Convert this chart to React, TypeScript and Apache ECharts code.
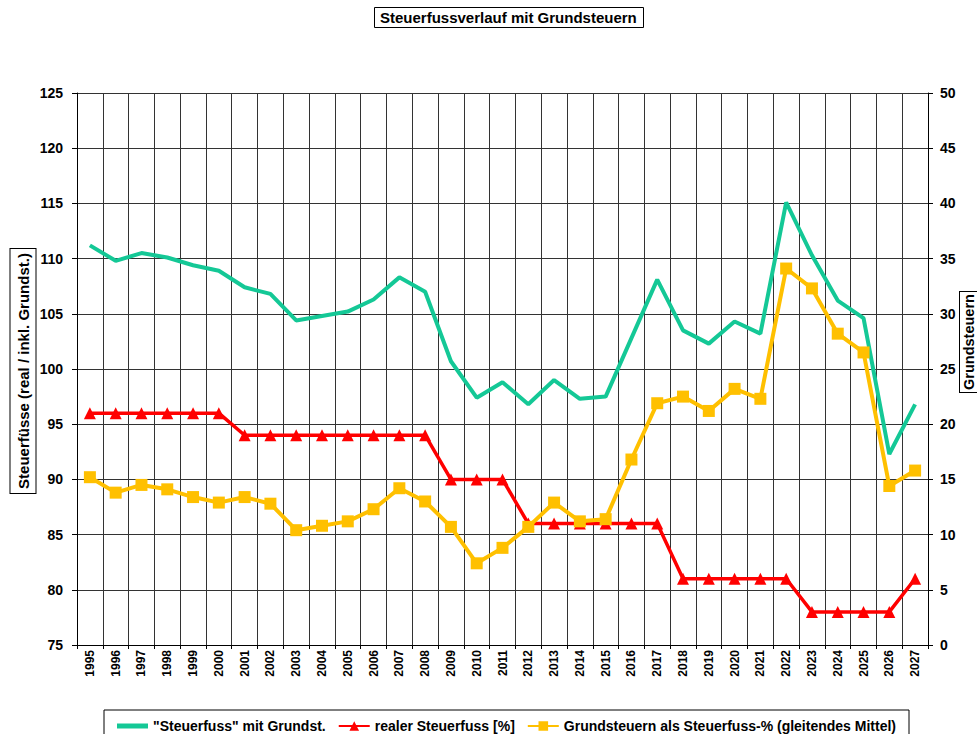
import React, { useEffect, useRef } from "react";
import * as echarts from "echarts";

const years = ["1995","1996","1997","1998","1999","2000","2001","2002","2003","2004","2005","2006","2007","2008","2009","2010","2011","2012","2013","2014","2015","2016","2017","2018","2019","2020","2021","2022","2023","2024","2025","2026","2027"];

const steuerfussMitGrundst = [111.2,109.8,110.5,110.1,109.4,108.9,107.4,106.8,104.4,104.8,105.2,106.3,108.3,107.0,100.7,97.4,98.8,96.8,99.0,97.3,97.5,102.8,108.1,103.5,102.3,104.3,103.2,115.1,110.3,106.2,104.6,92.3,96.8];

const realerSteuerfuss = [96,96,96,96,96,96,94,94,94,94,94,94,94,94,90,90,90,86,86,86,86,86,86,81,81,81,81,81,78,78,78,78,81];

const grundsteuernProzent = [15.2,13.8,14.5,14.1,13.4,12.9,13.4,12.8,10.4,10.8,11.2,12.3,14.2,13.0,10.7,7.4,8.8,10.7,12.9,11.2,11.4,16.8,21.9,22.5,21.2,23.2,22.3,34.1,32.3,28.2,26.5,14.4,15.8];

const leftTicks = { min: 75, max: 125, interval: 5 };
const rightTicks = { min: 0, max: 50, interval: 5 };

const seriesNames = ['"Steuerfuss" mit Grundst.', "realer Steuerfuss [%]", "Grundsteuern als Steuerfuss-% (gleitendes Mittel)"];

const FONT = "'Liberation Sans', Arial, sans-serif";

export default function App() {
  const ref = useRef<HTMLDivElement>(null);
  useEffect(() => {
    if (!ref.current) return;
    const chart = echarts.init(ref.current, undefined, { renderer: "svg" });
    chart.setOption({
      animation: false,
      backgroundColor: "#ffffff",
      textStyle: { fontFamily: FONT },
      title: {
        text: "Steuerfussverlauf mit Grundsteuern",
        left: 374,
        top: 7,
        padding: [2, 7, 2, 6],
        borderColor: "#000",
        borderWidth: 1,
        textStyle: { fontFamily: FONT, fontWeight: "bold", fontSize: 15, color: "#000", lineHeight: 17 },
      },
      grid: { left: 77, right: 49, top: 93, bottom: 89, containLabel: false, outerBoundsMode: "none" },
      legend: {
        left: 112,
        top: 714,
        itemWidth: 31,
        itemHeight: 12,
        itemGap: 12,
        textStyle: { fontFamily: FONT, fontWeight: "bold", fontSize: 14, color: "#000" },
        data: [
          { name: seriesNames[0], icon: "path://M0,0L31,0L31,5L0,5Z" },
          { name: seriesNames[1] },
          { name: seriesNames[2] },
        ],
      },
      graphic: [
        {
          type: "rect",
          shape: { x: 104, y: 710, width: 805, height: 40 },
          style: { fill: "none", stroke: "#000", lineWidth: 1 },
          silent: true,
        },
        {
          type: "text",
          x: 23,
          y: 371,
          rotation: Math.PI / 2,
          style: {
            text: "Steuerfüsse (real / inkl. Grundst.)",
            fontFamily: FONT,
            fontWeight: "bold",
            fontSize: 15,
            fill: "#000",
            align: "center",
            verticalAlign: "middle",
            borderColor: "#000",
            borderWidth: 1,
            padding: [5, 4, 5, 4],
            backgroundColor: "#fff",
          },
        },
        {
          type: "text",
          x: 969,
          y: 342,
          rotation: Math.PI / 2,
          style: {
            text: "Grundsteuern",
            fontFamily: FONT,
            fontWeight: "bold",
            fontSize: 14.5,
            fill: "#000",
            align: "center",
            verticalAlign: "middle",
            borderColor: "#000",
            borderWidth: 1,
            padding: [2, 2, 1, 2],
            backgroundColor: "#fff",
          },
        },
      ],
      xAxis: {
        type: "category",
        data: years,
        boundaryGap: true,
        axisLine: { show: true, lineStyle: { color: "#000", width: 1 } },
        axisTick: { show: true, length: 4, interval: 0, lineStyle: { color: "#000" } },
        axisLabel: { interval: 0, rotate: 90, fontWeight: "bold", fontSize: 12, color: "#000", margin: 5, fontFamily: FONT },
        splitLine: { show: true, interval: 0, lineStyle: { color: "#333", width: 1 } },
      },
      yAxis: [
        {
          type: "value",
          min: leftTicks.min,
          max: leftTicks.max,
          interval: leftTicks.interval,
          axisLine: { show: true, lineStyle: { color: "#000", width: 1 } },
          axisTick: { show: true, length: 5, inside: false, lineStyle: { color: "#000" } },
          axisLabel: { fontWeight: "bold", fontSize: 14, color: "#000", margin: 14, fontFamily: FONT },
          splitLine: { show: true, lineStyle: { color: "#333", width: 1 } },
        },
        {
          type: "value",
          min: rightTicks.min,
          max: rightTicks.max,
          interval: rightTicks.interval,
          position: "right",
          axisLine: { show: true, lineStyle: { color: "#000", width: 1 } },
          axisTick: { show: true, length: 5, inside: false, lineStyle: { color: "#000" } },
          axisLabel: { fontWeight: "bold", fontSize: 14, color: "#000", margin: 12, fontFamily: FONT },
          splitLine: { show: false },
        },
      ],
      series: [
        {
          name: seriesNames[0],
          type: "line",
          yAxisIndex: 0,
          data: steuerfussMitGrundst,
          showSymbol: false,
          symbol: "none",
          lineStyle: { color: "#14C896", width: 4 },
          itemStyle: { color: "#14C896" },
        },
        {
          name: seriesNames[1],
          type: "line",
          yAxisIndex: 0,
          data: realerSteuerfuss,
          symbol: "triangle",
          symbolSize: 12,
          lineStyle: { color: "#FF0000", width: 3.5 },
          itemStyle: { color: "#FF0000" },
        },
        {
          name: seriesNames[2],
          type: "line",
          yAxisIndex: 1,
          data: grundsteuernProzent,
          symbol: "rect",
          symbolSize: 12,
          lineStyle: { color: "#FFC000", width: 4 },
          itemStyle: { color: "#FFC000" },
        },
      ],
    });
    return () => chart.dispose();
  }, []);
  return <div ref={ref} style={{ position: "fixed", left: 0, top: 0, width: 977, height: 734 }} />;
}
